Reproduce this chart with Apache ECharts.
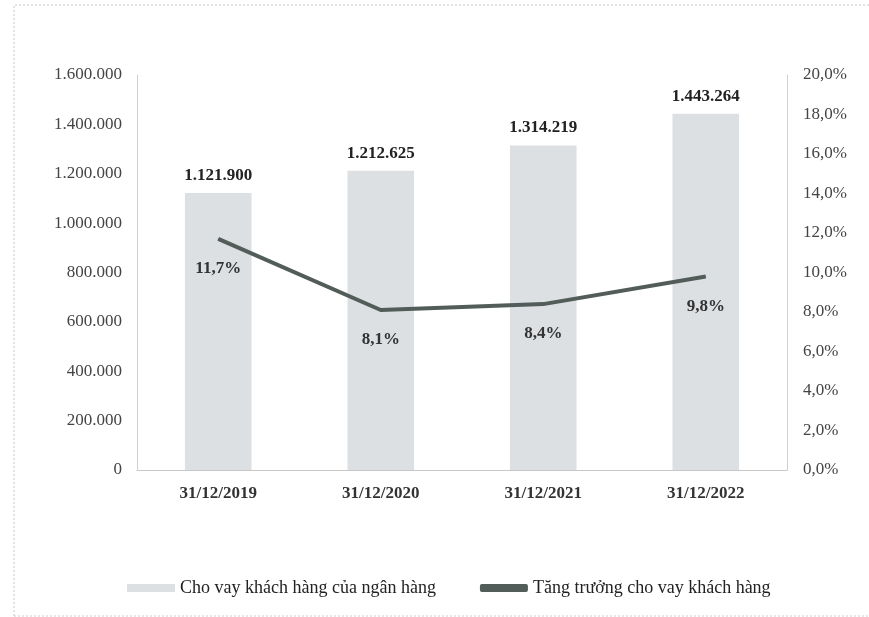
<!DOCTYPE html>
<html>
<head>
<meta charset="utf-8">
<script src="https://cdn.jsdelivr.net/npm/echarts@6/dist/echarts.min.js"></script>
<style>
html,body{margin:0;padding:0;background:#fff;}
#chart{width:869px;height:617px;}
</style>
</head>
<body>
<div id="chart"></div>
<script>
const categories = ['31/12/2019', '31/12/2020', '31/12/2021', '31/12/2022'];
const loans = [1121900, 1212625, 1314219, 1443264];
const growth = [11.7, 8.1, 8.4, 9.8];
const seriesNames = ['Cho vay khách hàng của ngân hàng', 'Tăng trưởng cho vay khách hàng'];

const FONT = '"Liberation Serif", "DejaVu Serif", serif';
function dots(v) {
  return String(Math.round(v)).replace(/\B(?=(\d{3})+(?!\d))/g, '.');
}
function pct(v) {
  return v.toFixed(1).replace('.', ',') + '%';
}

const chart = echarts.init(document.getElementById('chart'), null, {renderer: 'canvas'});
chart.setOption({
  backgroundColor: '#ffffff',
  animation: false,
  textStyle: {fontFamily: FONT},
  graphic: [
    {type: 'polyline', shape: {points: [[14, 616], [14, 5], [869, 5]]},
     style: {stroke: '#c8c8c8', lineWidth: 1, lineDash: [2, 2], fill: null}, silent: true},
    {type: 'line', shape: {x1: 14, y1: 616, x2: 869, y2: 616},
     style: {stroke: '#d0d0d0', lineWidth: 1, lineDash: [2, 2]}, silent: true}
  ],
  grid: {left: 137, right: 82, top: 75, bottom: 147},
  legend: {
    bottom: 15,
    left: 122,
    itemGap: 44,
    itemWidth: 48,
    itemHeight: 8,
    textStyle: {fontFamily: FONT, fontSize: 18, color: '#222'},
    data: [
      {name: seriesNames[0], icon: 'rect'},
      {name: seriesNames[1], icon: 'roundRect'}
    ]
  },
  xAxis: {
    type: 'category',
    data: categories,
    axisLine: {lineStyle: {color: '#c8c8c8'}},
    axisTick: {show: false},
    axisLabel: {fontFamily: FONT, fontSize: 17, fontWeight: 'bold', color: '#333', margin: 15}
  },
  yAxis: [
    {
      type: 'value', min: 0, max: 1600000, interval: 200000,
      axisLine: {show: true, lineStyle: {color: '#d0d0d0'}},
      axisTick: {show: false},
      splitLine: {show: false},
      axisLabel: {fontFamily: FONT, fontSize: 17, color: '#444', margin: 15, formatter: dots}
    },
    {
      type: 'value', min: 0, max: 20, interval: 2,
      position: 'right',
      axisLine: {show: true, lineStyle: {color: '#d0d0d0'}},
      axisTick: {show: false},
      splitLine: {show: false},
      axisLabel: {fontFamily: FONT, fontSize: 17, color: '#444', margin: 16, formatter: pct}
    }
  ],
  series: [
    {
      name: seriesNames[0],
      type: 'bar',
      data: loans,
      barWidth: '41%',
      itemStyle: {color: '#dde0e3'},
      label: {
        show: true, position: 'top', distance: 9,
        fontFamily: FONT, fontSize: 17, fontWeight: 'bold', color: '#222',
        formatter: p => dots(p.value)
      }
    },
    {
      name: seriesNames[1],
      type: 'line',
      yAxisIndex: 1,
      data: growth,
      smooth: false,
      showSymbol: true,
      symbol: 'circle',
      symbolSize: 1,
      lineStyle: {color: '#525c59', width: 4},
      itemStyle: {color: '#525c59'},
      label: {
        show: true, position: 'bottom', distance: 21,
        fontFamily: FONT, fontSize: 17, fontWeight: 'bold', color: '#333',
        formatter: p => pct(p.value)
      },
      z: 3
    }
  ]
});
</script>
</body>
</html>
